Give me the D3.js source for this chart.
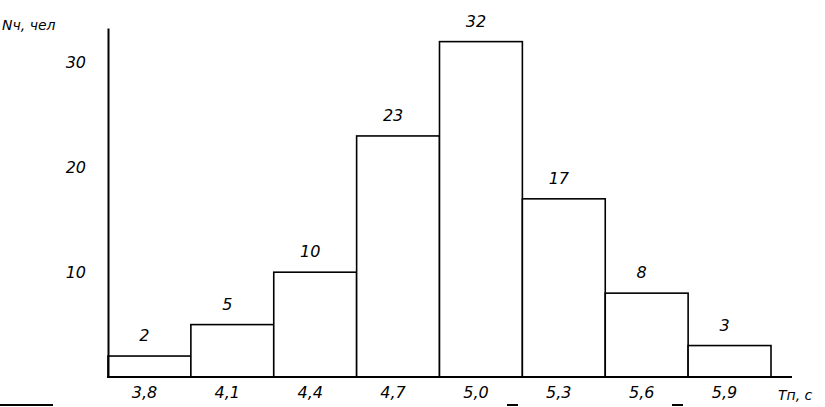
<!DOCTYPE html>
<html><head><meta charset="utf-8">
<script src="https://cdn.jsdelivr.net/npm/d3@7"></script>
<style>
body{margin:0;background:#fff;}
svg{display:block;}
text{font-family:"DejaVu Sans",sans-serif;font-style:italic;fill:#000;}
</style></head>
<body><svg id="c" width="825" height="407"></svg>
<script>
const categories = ["3,8","4,1","4,4","4,7","5,0","5,3","5,6","5,9"];
const counts = [2,5,10,23,32,17,8,3];
const yTicks = [10,20,30];
const yTitle = "Nч, чел";
const xTitle = "Тп, с";

const F = "'DejaVu Sans',sans-serif";
const svg = d3.select("#c");
const x = d3.scaleBand().domain(categories).range([108,771]).padding(0);
const y = d3.scaleLinear().domain([0,33.3]).range([377,28]);

svg.append("g").selectAll("rect").data(counts).join("rect")
  .attr("x", (d,i)=>x(categories[i]))
  .attr("y", d=>y(d))
  .attr("width", x.bandwidth())
  .attr("height", d=>y(0)-y(d))
  .attr("fill","#fff").attr("stroke","#000").attr("stroke-width",1.6);

svg.append("g").selectAll("text").data(counts).join("text")
  .attr("x", (d,i)=>x(categories[i])+x.bandwidth()/2-5)
  .attr("y", d=>y(d)-15)
  .attr("text-anchor","middle")
  .style("font-size","16px")
  .text(d=>d);

const ya = svg.append("g").attr("transform","translate(108,0)")
  .call(d3.axisLeft(y).tickValues(yTicks).tickSize(0).tickSizeOuter(0).tickPadding(22));
ya.select(".domain").attr("stroke","#000").attr("stroke-width",2);
ya.selectAll("text").style("font-size","16px").style("font-family",F).style("font-style","italic");

const xa = svg.append("g").attr("transform","translate(0,377)")
  .call(d3.axisBottom(x).tickSize(0).tickPadding(10));
xa.select(".domain").remove();
xa.selectAll("text").attr("dx",-5).style("font-size","16px").style("font-family",F).style("font-style","italic");
svg.append("line").attr("x1",107).attr("x2",792).attr("y1",y(0)).attr("y2",y(0))
  .attr("stroke","#000").attr("stroke-width",2);

svg.append("text").attr("x",2).attr("y",30).style("font-size","14px").text(yTitle);
svg.append("text").attr("x",778).attr("y",400).style("font-size","14px").text(xTitle);

[[0,53],[507,518],[672,683]].forEach(s=>{
  svg.append("line").attr("x1",s[0]).attr("x2",s[1]).attr("y1",405).attr("y2",405)
    .attr("stroke","#000").attr("stroke-width",2);
});
</script></body></html>
